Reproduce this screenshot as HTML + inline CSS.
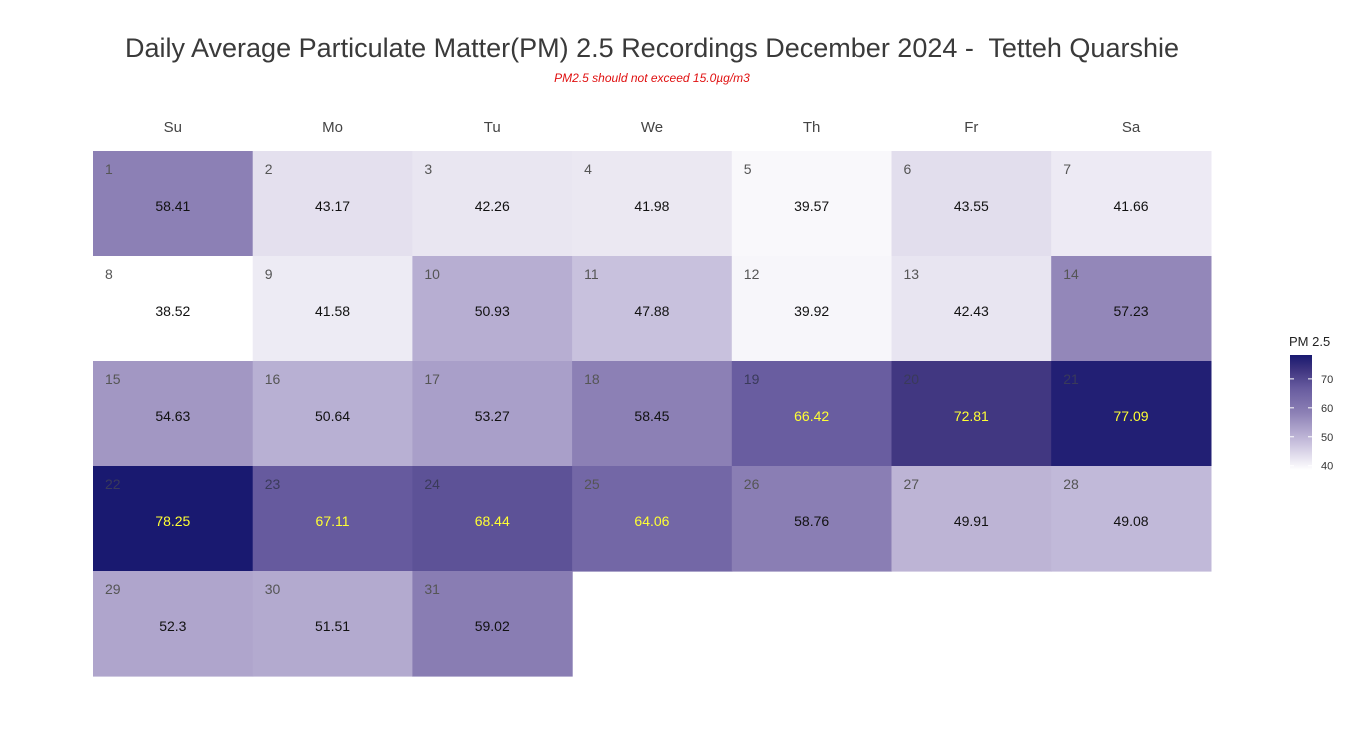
<!DOCTYPE html>
<html><head><meta charset="utf-8"><style>
body{margin:0;background:#fff;font-family:"Liberation Sans",Arial,sans-serif;}
#wrap{position:relative;width:1361px;height:751px;overflow:hidden;}
.t{position:absolute;white-space:nowrap;}
</style></head><body>
<div id="wrap">
<div class="t" style="left:0;width:1304px;text-align:center;top:33px;font-size:27px;color:#3a3a3a;">Daily Average Particulate Matter(PM) 2.5 Recordings December 2024 -&nbsp; Tetteh Quarshie</div>
<div class="t" style="left:0;width:1304px;text-align:center;top:71px;font-size:12px;font-style:italic;color:#e01010;">PM2.5 should not exceed 15.0µg/m3</div>
<svg id="svg" width="1361" height="751" style="position:absolute;left:0;top:0">
<defs><linearGradient id="lg" x1="0" y1="1" x2="0" y2="0">
<stop offset="0" stop-color="#ffffff"/><stop offset="0.25" stop-color="#c5bddb"/><stop offset="0.5" stop-color="#8c80b5"/><stop offset="0.72" stop-color="#665a9e"/><stop offset="0.87" stop-color="#3f3580"/><stop offset="1" stop-color="#191970"/></linearGradient></defs>
</svg>
</div>
<script>
const dayLabels=["Su","Mo","Tu","We","Th","Fr","Sa"];
const days=[1,2,3,4,5,6,7,8,9,10,11,12,13,14,15,16,17,18,19,20,21,22,23,24,25,26,27,28,29,30,31];
const pm=[58.41,43.17,42.26,41.98,39.57,43.55,41.66,38.52,41.58,50.93,47.88,39.92,42.43,57.23,54.63,50.64,53.27,58.45,66.42,72.81,77.09,78.25,67.11,68.44,64.06,58.76,49.91,49.08,52.3,51.51,59.02];
const legendTicks=[40,50,60,70];
const startDow=0;
const svg=document.getElementById('svg');
const NS='http://www.w3.org/2000/svg';
const x0=93,cw=159.7,y0=151,rh=105;
const vmin=Math.min(...pm),vmax=Math.max(...pm);
const stops=[[0,[255,255,255]],[0.25,[197,189,219]],[0.5,[140,128,181]],[0.72,[102,90,158]],[0.87,[63,53,128]],[1,[25,25,112]]];
function color(v){let t=(v-vmin)/(vmax-vmin);t=Math.max(0,Math.min(1,t));
for(let i=1;i<stops.length;i++){if(t<=stops[i][0]){const a=stops[i-1],b=stops[i];const f=(t-a[0])/(b[0]-a[0]);
const c=a[1].map((q,k)=>Math.round(q+(b[1][k]-q)*f));return `rgb(${c})`;}}return 'rgb(25,25,112)';}
function mk(tag,at,txt){const e=document.createElementNS(NS,tag);for(const k in at)e.setAttribute(k,at[k]);if(txt!==undefined)e.textContent=txt;svg.appendChild(e);return e;}
dayLabels.forEach((d,i)=>{const e=mk('text',{x:x0+cw*i+cw/2,y:132,'text-anchor':'middle','font-size':15,fill:'#444'},d);

});
days.forEach((d,i)=>{const idx=i+startDow;const c=idx%7,r=Math.floor(idx/7);const x=x0+cw*c,y=y0+rh*r;const v=pm[i];
const rc=mk('rect',{x:x,y:y,width:cw+0.6,height:rh+0.6,fill:color(v)});


const dn=mk('text',{x:x+12,y:y+23,'font-size':14,fill:v>65?'#3a3a5a':'#555'},d);


const vt=mk('text',{x:x+cw/2,y:y+60,'text-anchor':'middle','font-size':14,fill:v>60?'#ffff33':'#111'},String(v));

});
// legend
const lx=1290,ly=355,lw=22,lh=115,lmin=vmin,lmax=vmax;
const lt=mk('text',{x:1289,y:346,'font-size':13,fill:'#222'},'PM 2.5');


const bar=mk('rect',{x:lx,y:ly,width:lw,height:lh,fill:'url(#lg)'});


legendTicks.forEach(t=>{const y=ly+lh-(t-lmin)/(lmax-lmin)*lh;
mk('line',{x1:lx,x2:lx+4,y1:y,y2:y,stroke:'#fff','stroke-width':1});
mk('line',{x1:lx+lw-4,x2:lx+lw,y1:y,y2:y,stroke:'#fff','stroke-width':1});
const e=mk('text',{x:lx+31,y:y+4,'font-size':11,fill:'#333'},t);

});
</script>
</body></html>
